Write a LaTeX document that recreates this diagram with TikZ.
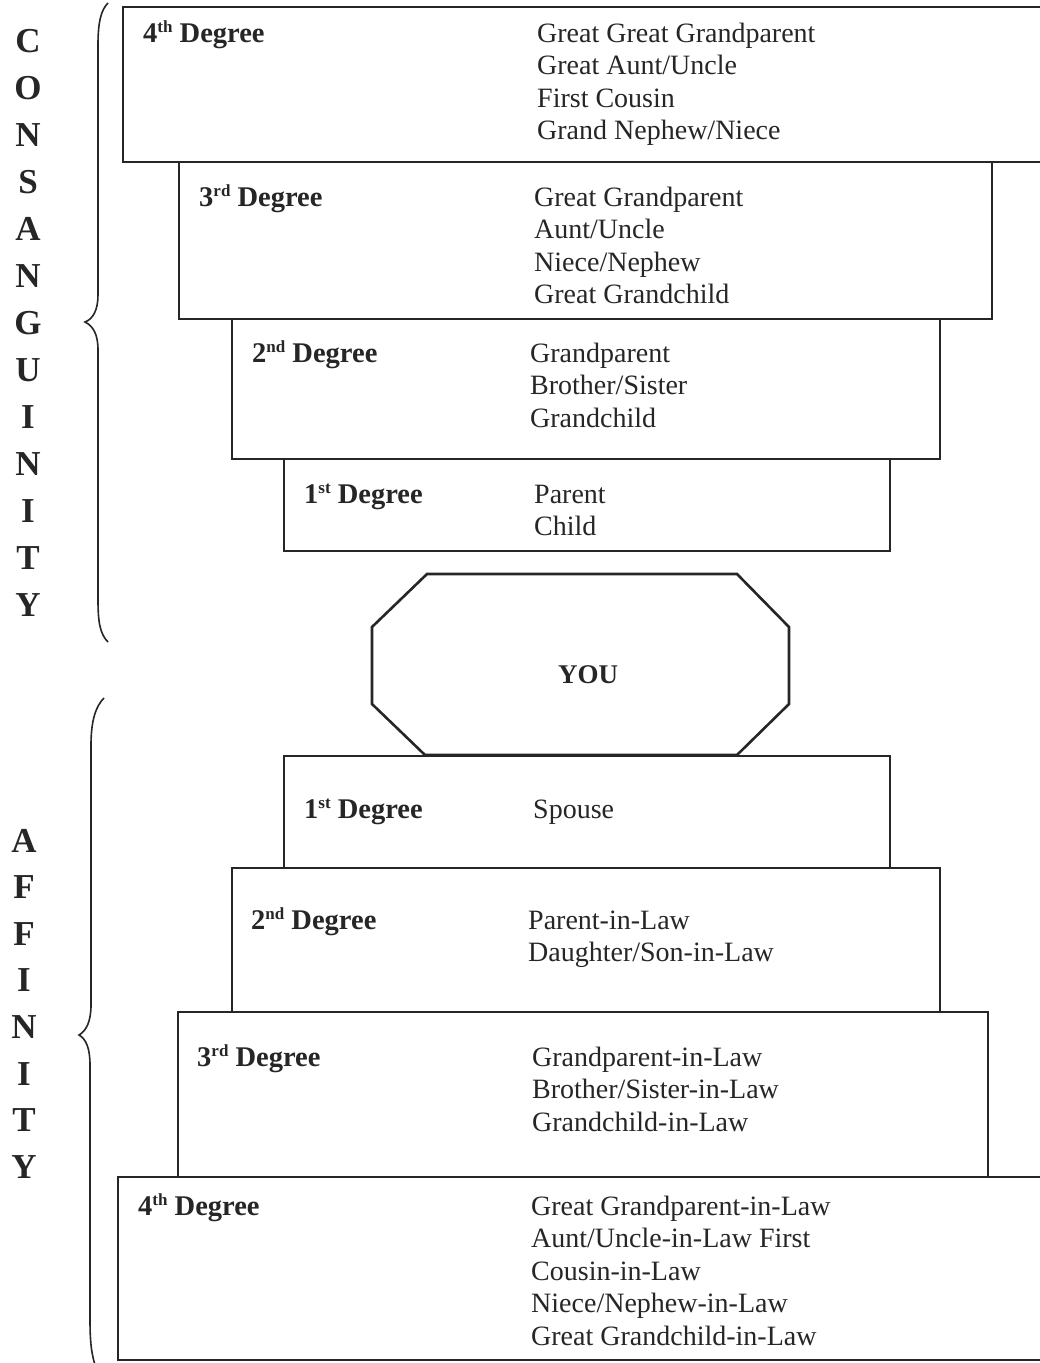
\documentclass[tikz,border=0pt]{standalone}
\usepackage{fontspec}
\setmainfont{Liberation Serif}
\definecolor{ink}{RGB}{38,38,38}
\tikzset{
  box/.style={draw=ink, line width=1.8pt},
  lbl/.style={anchor=base west, inner sep=0pt, text=ink, font=\fontsize{28.5}{32.5}\selectfont\bfseries},
  items/.style={anchor=base west, inner sep=0pt, text=ink, align=left, font=\fontsize{28}{32.5}\selectfont},
  bigletter/.style={anchor=base, inner sep=0pt, text=ink, font=\fontsize{35}{40}\selectfont\bfseries},
  brace/.style={draw=ink, line width=1.6pt},
}
\newcommand{\ord}[2]{#1\raisebox{9.5pt}{\fontsize{17}{17}\selectfont #2}~Degree}
\begin{document}
\begin{tikzpicture}[x=1pt,y=-1pt]
\useasboundingbox (0,0) rectangle (1040,1363);
\fill[white] (0,0) rectangle (1040,1363);
\begin{scope}
\clip (0,0) rectangle (1040,1363);
% consanguinity boxes
\draw[box] (123,7) rectangle (1050,162);
\draw[box] (179,162) rectangle (992,319);
\draw[box] (232,319) rectangle (940,459);
\draw[box] (284,459) rectangle (890,551);
% affinity boxes
\draw[box] (284,756) rectangle (890,868);
\draw[box] (232,868) rectangle (940,1012);
\draw[box] (178,1012) rectangle (988,1177);
\draw[box] (118,1177) rectangle (1050,1360);
% braces
\draw[brace] (108,3) .. controls (101,10) and (98,22) .. (98,45) -- (98,295)
  .. controls (98,310) and (93,319) .. (85,322)
  .. controls (93,326) and (98,334) .. (98,350) -- (98,600)
  .. controls (98,622) and (100,634) .. (108,642);
\draw[brace] (104,698) .. controls (96,706) and (91,720) .. (91,745) -- (91,1005)
  .. controls (91,1022) and (86,1031) .. (79,1035)
  .. controls (86,1039) and (90,1048) .. (90,1065) -- (90,1320)
  .. controls (90,1345) and (92,1356) .. (96,1368);
\end{scope}
% YOU octagon
\draw[ink, line width=2.6pt, fill=white] (427,574) -- (737,574) -- (789,627) -- (789,704) -- (737,755) -- (425,755) -- (372,704) -- (372,627) -- cycle;
\node[anchor=base, inner sep=0pt, text=ink, font=\fontsize{27}{30}\selectfont\bfseries] (you) at (588,683) {YOU};
% consanguinity texts (items: anchor is baseline of last line)
\node[lbl] (c4l) at (143,42) {\ord{4}{th}};
\node[items] (c4i) at (537,139.5) {Great Great Grandparent\\Great Aunt/Uncle\\First Cousin\\Grand Nephew/Niece};
\node[lbl] (c3l) at (199,206) {\ord{3}{rd}};
\node[items] (c3i) at (534,303.5) {Great Grandparent\\Aunt/Uncle\\Niece/Nephew\\Great Grandchild};
\node[lbl] (c2l) at (252,362) {\ord{2}{nd}};
\node[items] (c2i) at (530,427) {Grandparent\\Brother/Sister\\Grandchild};
\node[lbl] (c1l) at (304,503) {\ord{1}{st}};
\node[items] (c1i) at (534,535.5) {Parent\\Child};
% affinity texts
\node[lbl] (a1l) at (304,818) {\ord{1}{st}};
\node[items] (a1i) at (533,818) {Spouse};
\node[lbl] (a2l) at (251,929) {\ord{2}{nd}};
\node[items] (a2i) at (528,961.5) {Parent-in-Law\\Daughter/Son-in-Law};
\node[lbl] (a3l) at (197,1066) {\ord{3}{rd}};
\node[items] (a3i) at (532,1131) {Grandparent-in-Law\\Brother/Sister-in-Law\\Grandchild-in-Law};
\node[lbl] (a4l) at (138,1215) {\ord{4}{th}};
\node[items] (a4i) at (531,1345) {Great Grandparent-in-Law\\Aunt/Uncle-in-Law First\\Cousin-in-Law\\Niece/Nephew-in-Law\\Great Grandchild-in-Law};
% vertical words
\foreach \ch [count=\i] in {C,O,N,S,A,N,G,U,I,N,I,T,Y}
  \node[bigletter] (cs\i) at (28, {40+(\i-1)*47.08+12}) {\ch};
\foreach \ch [count=\i] in {A,F,F,I,N,I,T,Y}
  \node[bigletter] (af\i) at (24, {840+(\i-1)*46.6+12}) {\ch};
\end{tikzpicture}
\end{document}
